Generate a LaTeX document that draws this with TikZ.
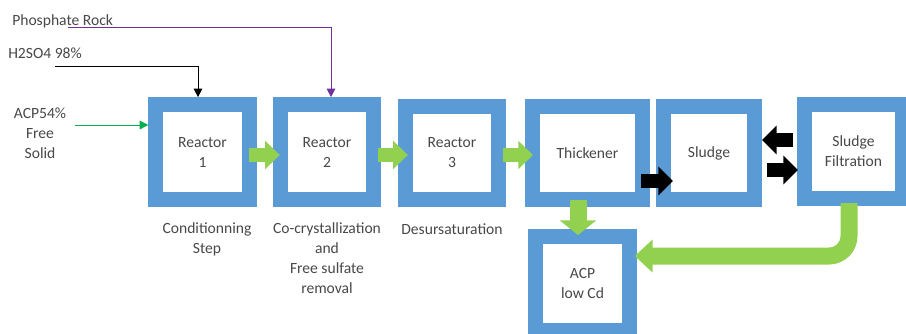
\documentclass[tikz,border=0pt]{standalone}
\usepackage{fontspec}
\setmainfont{Carlito}
\usetikzlibrary{arrows.meta,calc,positioning}
\definecolor{boxblue}{HTML}{5B9BD5}
\definecolor{flowgreen}{HTML}{92D050}
\definecolor{feedgreen}{HTML}{00B050}
\definecolor{feedpurple}{HTML}{7030A0}
\definecolor{txtgray}{HTML}{484848}
\begin{document}
\begin{tikzpicture}[x=0.75pt, y=-0.75pt,
    font=\fontsize{11.7}{15}\selectfont, text=txtgray,
    unitbox/.style={draw=boxblue, line width=11.25pt, fill=white, align=center,
      minimum width=70pt, minimum height=71pt, inner sep=0pt},
    steplabel/.style={align=center, inner sep=0pt},
    feedline/.style={line width=0.75pt, -{Triangle[width=6.5pt,length=6.5pt]}},
    flowarrow/.style={draw=flowgreen, line width=10pt, -{Triangle[width=20.5pt,length=11pt]}},
    blackarrow/.style={draw=black, line width=10.5pt, -{Triangle[width=21pt,length=11pt]}}]
    \clip (0,0) rectangle (906,333) ;
    % process units
    \node[unitbox] (r1) at (202.5,152) {Reactor\\1} ;
    \node[unitbox] (r2) at (327,152) {Reactor\\2} ;
    \node[unitbox, minimum height=70pt] (r3) at (452,153) {Reactor\\3} ;
    \node[unitbox, minimum width=82.5pt, minimum height=70pt] (thick) at (587.5,153) {Thickener} ;
    \node[unitbox, minimum width=68.25pt, minimum height=70pt] (sludge) at (709,153) {Sludge} ;
    \node[unitbox, minimum width=73.5pt, minimum height=70.5pt] (filt) at (853.5,151.5) {Sludge\\Filtration} ;
    \node[unitbox, minimum height=70.5pt] (acp) at (582.5,283.5) {ACP\\low Cd} ;
    % feeds
    \node[anchor=west, inner sep=0pt] (rock) at (12,21) {Phosphate Rock} ;
    \node[anchor=west, inner sep=0pt] (acid) at (8,53) {H2SO4 98\%} ;
    \node[align=center, inner sep=0pt] (acpin) at (40,133) {ACP54\%\\Free\\Solid} ;
    \draw[feedline, draw=feedpurple] ($(rock.south west)+(56,0)$) -| ($(r2.north)+(4,0)$) ;
    \draw[feedline, draw=black] ($(acid.south west)+(47,8)$) -| ($(r1.north)+(-4.5,0)$) ;
    \draw[feedline, draw=feedgreen] ($(acpin.east)+(9,-8)$) -- ($(r1.west)+(0,-27)$) ;
    % step labels
    \node[steplabel, below=12pt of r1, xshift=3.4pt] (lab1) {Conditionning\\Step} ;
    \node[steplabel, below=12pt of r2] (lab2) {Co-crystallization\\and\\Free sulfate\\removal} ;
    \node[steplabel, below=12pt of r3] (lab3) {Desursaturation} ;
    % flows
    \draw[flowarrow] ($(r1.east)+(-8,3)$) -- ($(r2.west)+(7,3)$) ;
    \draw[flowarrow] ($(r2.east)+(-3,3)$) -- ($(r3.west)+(10,2)$) ;
    \draw[flowarrow] ($(r3.east)+(-3,2)$) -- ($(thick.west)+(8,2)$) ;
    \draw[blackarrow] ($(thick.east)+(-9,28)$) -- ($(sludge.west)+(17,28)$) ;
    \draw[blackarrow] ($(filt.west)+(-4,-11.5)$) -- ($(sludge.east)+(0,-13)$) ;
    \draw[blackarrow] ($(sludge.east)+(5,17)$) -- ($(filt.west)+(1,18.5)$) ;
    \draw[draw=flowgreen, line width=12.75pt, -{Triangle[width=27pt,length=11pt]}]
      ($(thick.south)+(-9.5,-7)$) -- ($(acp.north)+(-4.5,6)$) ;
    \draw[draw=flowgreen, line width=12.75pt, rounded corners=15pt, -{Triangle[width=24pt,length=13.5pt]}]
      ($(filt.south)+(-4.5,-3)$) |- ($(acp.east)+(-2,-27.5)$) ;
  \end{tikzpicture}
\end{document}
